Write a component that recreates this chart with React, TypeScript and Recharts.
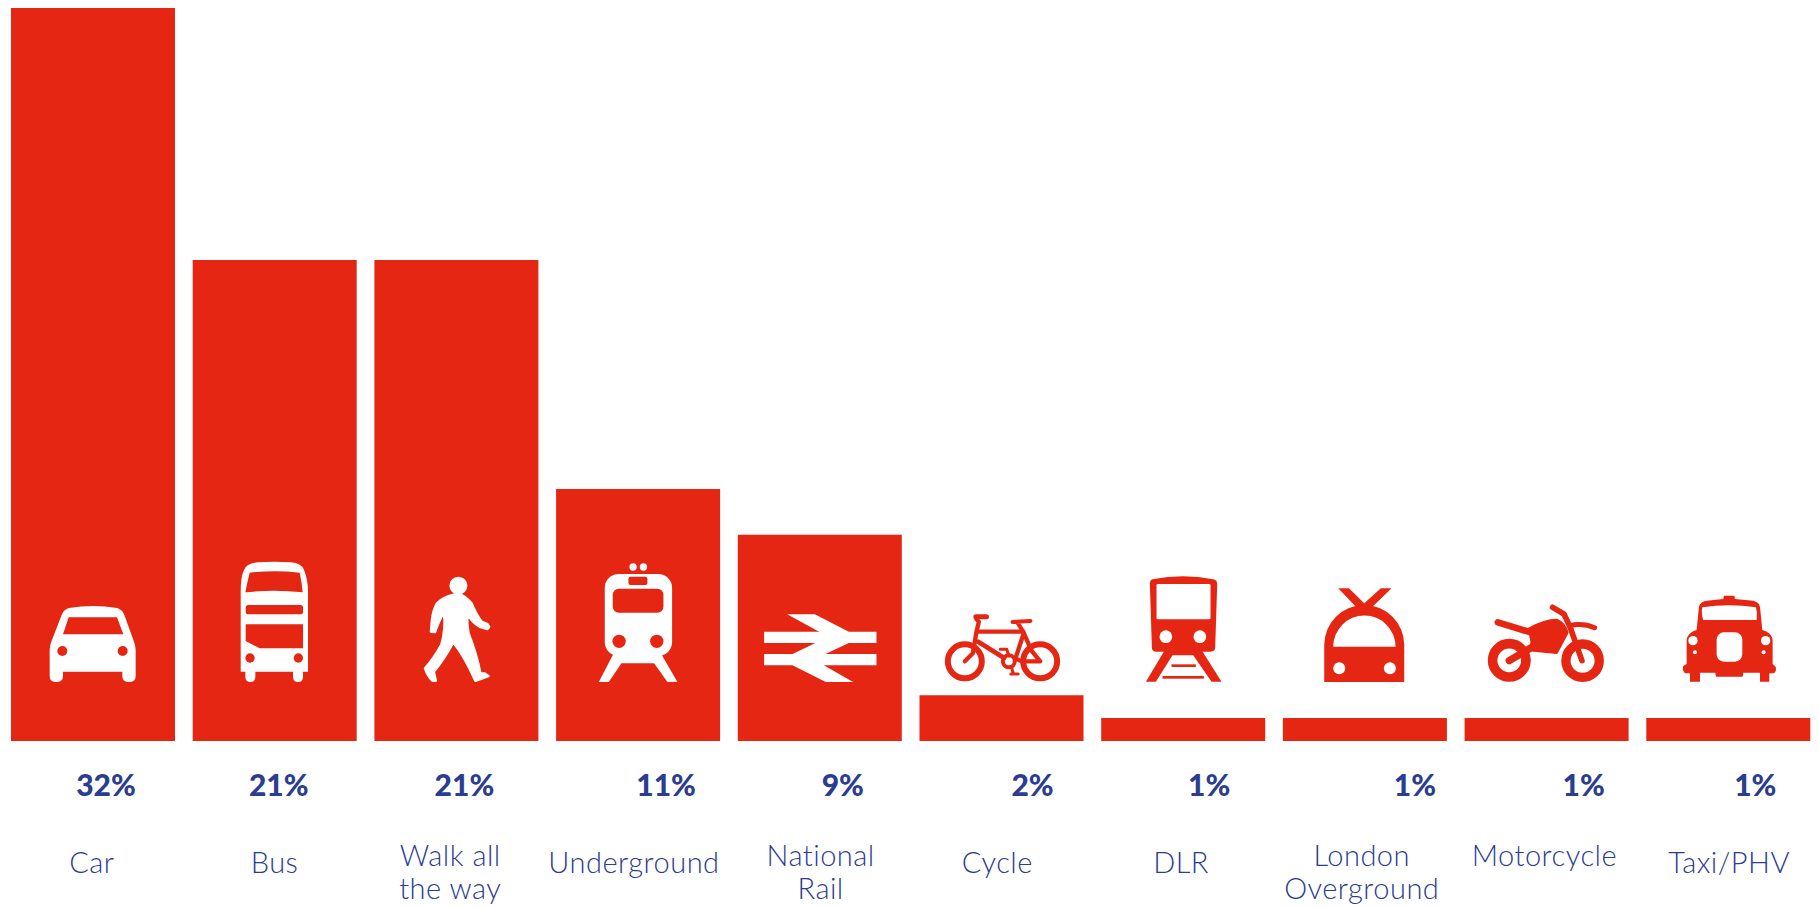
import React from 'react';
import { BarChart, Bar, XAxis, YAxis, LabelList } from 'recharts';

const categories = ['Car', 'Bus', 'Walk all the way', 'Underground', 'National Rail', 'Cycle', 'DLR', 'London Overground', 'Motorcycle', 'Taxi/PHV'];
const shares = [32, 21, 21, 11, 9, 2, 1, 1, 1, 1];
const nameLines = [['Car'], ['Bus'], ['Walk all', 'the way'], ['Underground'], ['National', 'Rail'], ['Cycle'], ['DLR'], ['London', 'Overground'], ['Motorcycle'], ['Taxi/PHV']];

const RED = '#e52613';
const BLUE = '#2b3d8f';
const FONT = 'Lato, sans-serif';

// label nudges, the captions don't sit centred under their bars
const shareShift = [13, 4, 8, 28, 23, 31, 26, 50, 37, 27];
const nameShift = [-1, 0, -6, -4, 1, -4, -2, -3, -2, 1];
// first-line baseline for each caption
const nameTop = [132, 132, 125, 132, 125, 132, 132, 125, 125, 132];

const data = categories.map((name, i) => ({ name, share: shares[i] }));

type GlyphProps = { fg: string; bg: string };

const CarIcon = ({ fg, bg }: GlyphProps) => (
  <g>
    <path fill={fg} d="M120 305 L298 305 L298 318 Q298 336 318 336 Q338 336 338 318 L338 240 Q338 226 332 212 L304 135 Q298 118 282 114 Q210 102 138 114 Q122 118 116 135 L86 212 Q80 226 80 240 L80 318 Q80 336 100 336 Q120 336 120 318 Z" />
    <path fill={bg} d="M137 142 L282 142 L301 193 L120 193 Z" />
    <circle fill={bg} cx={118} cy={243} r={15} />
    <circle fill={bg} cx={299} cy={243} r={15} />
  </g>
);

const BusIcon = ({ fg, bg }: GlyphProps) => (
  <g>
    <path fill={fg} d="M108 305 L108 65 Q108 20 118 0 Q125 -20 160 -23 Q210 -27 258 -23 Q292 -20 298 0 Q310 30 310 65 L310 305 L295 305 L295 320 Q295 336 280 336 Q265 336 265 320 L265 305 L152 305 L152 320 Q152 336 137 336 Q122 336 122 320 L122 305 Z" />
    <path fill={bg} d="M135 8 Q210 0 285 8 Q292 40 294 67 Q210 58 122 67 Q128 35 135 8 Z" />
    <rect fill={bg} x={123} y={105} width={172} height={28} rx={8} />
    <path fill={bg} d="M123 163 L295 163 L295 235 L165 235 L123 213 Z" />
    <circle fill={bg} cx={136} cy={264} r={14} />
    <circle fill={bg} cx={281} cy={264} r={14} />
  </g>
);

const WalkIcon = ({ fg }: GlyphProps) => (
  <g fill={fg} stroke={fg} strokeWidth={8} strokeLinejoin="round">
    <circle cx={216} cy={47} r={23} />
    <path d="M205 74 Q170 82 152 100 Q140 120 137 150 L134 185 L146 186 Q152 165 172 125 Q180 170 165 225 Q140 270 116 295 Q124 318 138 332 L148 332 L142 305 Q175 265 200 217 Q230 250 267 332 L306 318 L295 311 L282 311 Q270 250 246 190 Q240 160 243 130 Q255 155 280 170 L303 177 L308 170 L303 163 L285 155 Q270 135 255 100 Q240 82 222 74 Z" />
  </g>
);

const TubeIcon = ({ fg, bg }: GlyphProps) => (
  <g>
    <circle fill={fg} cx={195} cy={-9} r={11} />
    <circle fill={fg} cx={226} cy={-9} r={11} />
    <rect fill={fg} x={110} y={12} width={202} height={246} rx={42} />
    <path fill={fg} d="M137 250 L92 336 L122 336 L160 280 L258 280 L298 336 L328 336 L278 250 Z" />
    <rect fill={bg} x={181} y={20} width={57} height={25} rx={6} />
    <rect fill={bg} x={134} y={56} width={152} height={72} rx={18} />
    <circle fill={bg} cx={153} cy={214} r={20} />
    <circle fill={bg} cx={266} cy={214} r={20} />
  </g>
);

const RailIcon = ({ fg }: GlyphProps) => (
  <path fill={fg} d="M112 133 L195 133 L297 185 L380 185 L380 219 L297 219 L227 252 L380 252 L380 286 L222 286 L310 336 L228 336 L128 286 L43 286 L43 252 L128 252 L197 219 L43 219 L43 185 L208 185 Z" />
);

const BikeIcon = ({ fg }: GlyphProps) => (
  <g fill="none" stroke={fg} strokeLinecap="round" strokeLinejoin="round">
    <circle cx={100} cy={214} r={51} strokeWidth={18} />
    <circle cx={326} cy={214} r={51} strokeWidth={18} />
    <circle cx={232} cy={214} r={18} strokeWidth={12} />
    <path strokeWidth={15} d="M133 80 L165 80" />
    <path strokeWidth={13} d="M135 88 L142 95 L135 125 L124 190 L100 214" />
    <path strokeWidth={13} d="M138 125 L275 125 L300 182 L326 214 L270 214 L252 205 L275 135" />
    <path strokeWidth={14} d="M140 155 L218 204" />
    <path strokeWidth={12} d="M243 96 L297 93 M258 98 L275 125" />
    <path strokeWidth={9} d="M206 178 L226 178 L232 198 M240 232 L246 252 M238 252 L260 252" />
  </g>
);

const DlrIcon = ({ fg, bg }: GlyphProps) => (
  <g>
    <path fill={fg} d="M118 28 Q210 10 300 28 Q312 30 312 42 L306 232 Q306 245 292 245 L128 245 Q116 245 116 232 L110 42 Q110 30 118 28 Z" />
    <path fill={fg} d="M155 240 L98 335 L128 335 L178 256 L240 256 L295 335 L325 335 L265 240 Z" />
    <rect fill={bg} x={130} y={42} width={162} height={106} rx={4} />
    <circle fill={bg} cx={158} cy={200} r={19} />
    <circle fill={bg} cx={260} cy={200} r={19} />
    <rect fill={fg} x={175} y={283} width={73} height={8} />
    <rect fill={fg} x={148} y={318} width={124} height={8} />
  </g>
);

const OvergroundIcon = ({ fg, bg }: GlyphProps) => (
  <g>
    <path fill={fg} d="M130 55 L162 55 L208 100 L258 55 L290 55 L225 118 L190 118 Z" />
    <path fill={fg} d="M88 336 L88 225 A120 120 0 0 1 328 225 L328 336 Z" />
    <path fill={bg} d="M115 230 A93 93 0 0 1 302 230 Z" />
    <circle fill={bg} cx={133} cy={295} r={18} />
    <circle fill={bg} cx={285} cy={295} r={18} />
  </g>
);

const MotoIcon = ({ fg }: GlyphProps) => (
  <g stroke={fg} strokeLinecap="round" strokeLinejoin="round" fill="none">
    <circle cx={98} cy={211} r={50} strokeWidth={29} />
    <circle cx={318} cy={212} r={50} strokeWidth={28} />
    <path strokeWidth={22} d="M98 212 L160 175" />
    <path strokeWidth={20} d="M64 97 L165 128" />
    <path fill={fg} strokeWidth={8} d="M158 116 Q205 90 240 90 Q264 100 272 128 L240 188 L156 180 L166 158 Z" />
    <path strokeWidth={17} d="M228 52 L262 72 L280 110 L316 212" />
    <path strokeWidth={15} d="M280 106 Q320 98 354 113" />
  </g>
);

const TaxiIcon = ({ fg, bg }: GlyphProps) => (
  <g>
    <path fill={fg} d="M95 275 L95 250 L80 250 Q70 240 75 228 L85 222 L85 150 Q88 128 115 120 L122 50 Q125 35 145 32 L195 27 L197 17 L228 17 L230 27 L285 32 Q303 36 305 50 L312 120 Q340 128 343 150 L343 222 L352 230 Q356 245 345 250 L333 250 L333 275 L305 275 L305 248 L255 248 L253 260 L173 260 L171 248 L125 248 L125 275 Z" />
    <path fill={bg} d="M132 52 Q212 40 293 52 Q298 70 295 90 L135 90 Q128 70 132 52 Z" />
    <rect fill={bg} x={175} y={127} width={77} height={88} rx={22} />
    <circle fill={bg} cx={104} cy={152} r={14} />
    <circle fill={bg} cx={322} cy={152} r={14} />
    <circle fill={bg} cx={110} cy={187} r={6} />
    <circle fill={bg} cx={316} cy={187} r={6} />
  </g>
);

// icon artwork is drawn at 3x around x=210; top is the page row its y=0 lands on
const icons = [
  { Glyph: CarIcon, top: 570 },
  { Glyph: BusIcon, top: 570 },
  { Glyph: WalkIcon, top: 570 },
  { Glyph: TubeIcon, top: 570 },
  { Glyph: RailIcon, top: 570 },
  { Glyph: BikeIcon, top: 590 },
  { Glyph: DlrIcon, top: 570 },
  { Glyph: OvergroundIcon, top: 570 },
  { Glyph: MotoIcon, top: 590 },
  { Glyph: TaxiIcon, top: 590 },
];

const renderIcon = (props: any) => {
  const { x, y, width, index } = props;
  const { Glyph, top } = icons[index];
  // tall bars carry a white icon, the short ones have it in red on the page
  const inside = y < top;
  return (
    <g transform={`translate(${x + width / 2 - 70} ${top}) scale(${1 / 3})`}>
      <Glyph fg={inside ? '#ffffff' : RED} bg={inside ? RED : '#ffffff'} />
    </g>
  );
};

const renderShare = (props: any) => {
  const { x, y, width, height, value, index } = props;
  return (
    <text
      x={x + width / 2 + shareShift[index]}
      y={y + height + 55}
      textAnchor="middle"
      fill={BLUE}
      fontFamily={FONT}
      fontWeight={900}
      fontSize={30}
    >
      {value}%
    </text>
  );
};

const NameTick = (props: any) => {
  const { x, index } = props;
  return (
    <text textAnchor="middle" fill={BLUE} fontFamily={FONT} fontWeight={300} fontSize={29} letterSpacing={0.5}>
      {nameLines[index].map((line, i) => (
        <tspan key={line} x={x + nameShift[index]} y={741 + nameTop[index] + i * 33}>
          {line}
        </tspan>
      ))}
    </text>
  );
};

export default function App() {
  return (
    <div style={{ position: 'absolute', left: 0, top: 0, width: 1819, height: 907, background: '#fff' }}>
      <BarChart width={1819} height={907} data={data} margin={{ top: 8, right: 0, bottom: 0, left: 2 }} barSize={164}>
        <XAxis dataKey="name" interval={0} height={166} axisLine={false} tickLine={false} tick={<NameTick />} />
        <YAxis hide domain={[0, 32]} />
        <Bar dataKey="share" fill={RED} isAnimationActive={false}>
          <LabelList dataKey="share" content={renderIcon} />
          <LabelList dataKey="share" content={renderShare} />
        </Bar>
      </BarChart>
    </div>
  );
}
